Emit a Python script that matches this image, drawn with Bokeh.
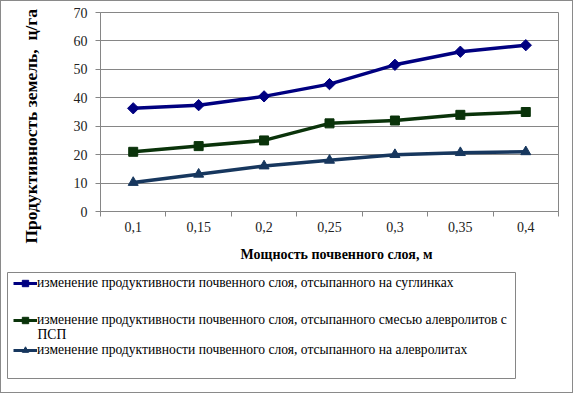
import math
from bokeh.plotting import figure
from bokeh.layouts import column
from bokeh.models import FixedTicker, Legend, LegendItem, Label, Title
from bokeh.embed import file_html
from bokeh.resources import INLINE

# ---- data ----
thickness_labels = ["0,1", "0,15", "0,2", "0,25", "0,3", "0,35", "0,4"]
suglinki = [36.3, 37.4, 40.5, 44.8, 51.6, 56.2, 58.5]
smes = [21, 23, 25, 31, 32, 34, 35]
alevrolity = [10.2, 13.1, 16, 18, 20, 20.7, 21]
y_ticks = [0, 10, 20, 30, 40, 50, 60, 70]
series_names = [
    "изменение продуктивности почвенного слоя, отсыпанного на суглинках",
    "изменение продуктивности почвенного слоя, отсыпанного смесью алевролитов с",
    "изменение продуктивности почвенного слоя, отсыпанного на алевролитах",
]
series_name_wrap = "ПСП"
x_title = "\u00a0" * 4 + "Мощность почвенного слоя, м"
y_title = "Продуктивность земель,\u00a0\u00a0ц/га"

xpos = list(range(1, len(thickness_labels) + 1))

FONT = "Liberation Serif"
GRAY = "#868686"

p = figure(width=571, height=269, output_backend="svg", toolbar_location=None,
           x_range=(0.5, len(xpos) + 0.5), y_range=(0, 70), frame_align=False,
           min_border_left=99, min_border_right=14, min_border_top=11, min_border_bottom=59)
p.outline_line_color = GRAY
p.background_fill_color = "white"
p.border_fill_color = "white"

# grid
p.xgrid.grid_line_color = None
p.ygrid.grid_line_color = GRAY
p.ygrid.grid_line_width = 1

# x axis
xa = p.xaxis[0]
xa.ticker = FixedTicker(ticks=xpos, minor_ticks=[x - 0.5 for x in xpos] + [xpos[-1] + 0.5])
xa.major_label_overrides = {x: lab for x, lab in zip(xpos, thickness_labels)}
xa.major_tick_line_color = None
xa.major_tick_out = 0
xa.major_tick_in = 0
xa.minor_tick_line_color = GRAY
xa.minor_tick_out = 5
xa.minor_tick_in = 0
xa.axis_line_color = GRAY
xa.major_label_text_font = FONT
xa.major_label_text_font_size = "14px"
xa.major_label_text_color = "#222222"
xa.major_label_standoff = 5
xa.axis_label = x_title
xa.axis_label_text_font = FONT
xa.axis_label_text_font_style = "bold"
xa.axis_label_text_font_size = "14px"
xa.axis_label_text_color = "black"
xa.axis_label_standoff = 12

# y axis
ya = p.yaxis[0]
ya.ticker = FixedTicker(ticks=y_ticks)
ya.minor_tick_line_color = None
ya.major_tick_line_color = GRAY
ya.major_tick_out = 5
ya.major_tick_in = 0
ya.axis_line_color = GRAY
ya.major_label_text_font = FONT
ya.major_label_text_font_size = "14px"
ya.major_label_text_color = "#222222"
ya.major_label_standoff = 8
# spacer label to push the title outward
ya.axis_label = "\u00a0"
ya.axis_label_text_font_size = "2px"
ya.axis_label_standoff = 22

p.add_layout(Title(text=y_title, align="left", offset=-32, text_font=FONT,
                   text_font_style="bold", text_font_size="17.5px", text_color="black",
                   standoff=6), "left")

styles = [
    (suglinki, "#000080", "square", 8, math.pi / 4),
    (smes, "#0a330a", "square", 9, 0),
    (alevrolity, "#17375E", "triangle", 10, 0),
]

for vals, col, mk, sz, ang in styles:
    p.line(xpos, vals, line_color=col, line_width=3.5)
    p.scatter(xpos, vals, marker=mk, size=sz, angle=ang, fill_color=col, line_color=col)

# ---- legend panel (frame = legend box) ----
p2 = figure(width=571, height=122, output_backend="svg", toolbar_location=None,
            x_range=(0.5, len(xpos) + 0.5), y_range=(0, 70), frame_align=False,
            x_axis_location=None, y_axis_location=None,
            min_border_left=6, min_border_right=57, min_border_top=2, min_border_bottom=14)
p2.outline_line_color = GRAY
p2.grid.visible = False
p2.background_fill_color = "white"
p2.border_fill_color = "white"

H = 106
centers = [11, 48, 78]
for (vals, col, mk, sz, ang), name, c in zip(styles, series_names, centers):
    r1 = p2.line(xpos, vals, line_color=col, line_width=3, visible=False)
    r2 = p2.scatter(xpos, vals, marker=mk, size=sz * 0.8, angle=ang, fill_color=col,
                    line_color=col, visible=False)
    lg = Legend(items=[LegendItem(label=name, renderers=[r1, r2])],
                location=(6, H - c - 8), orientation="vertical",
                label_text_font=FONT, label_text_font_size="13.6px", label_text_color="black",
                glyph_width=24, glyph_height=16, label_height=16, label_standoff=0,
                padding=0, margin=0, border_line_color=None,
                background_fill_alpha=0, inactive_fill_alpha=0)
    p2.add_layout(lg, "center")

p2.add_layout(Label(x=30, y=H - 62, x_units="screen", y_units="screen", text=series_name_wrap,
                    text_font=FONT, text_font_size="13.6px", text_color="black",
                    text_baseline="middle"))

layout = column(p, p2, spacing=0, styles={"border": "1px solid #8a8a8a"})

open("out.html", "w").write(file_html(layout, INLINE))
